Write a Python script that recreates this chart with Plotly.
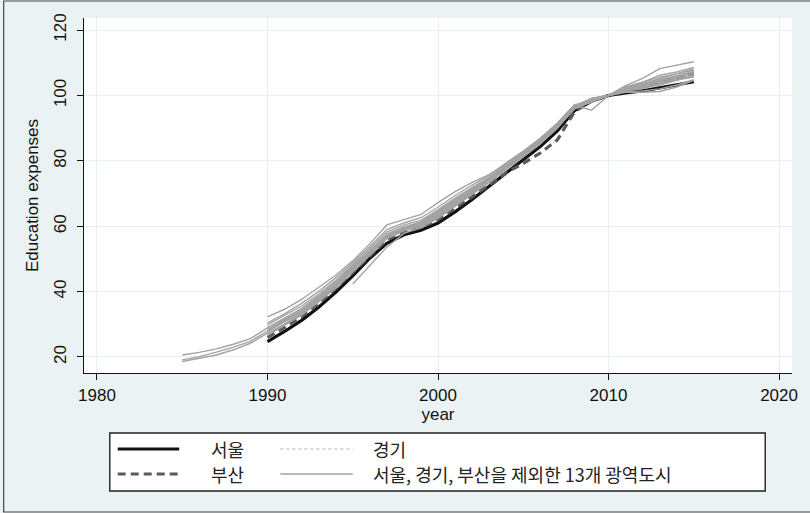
import plotly.graph_objects as go

# ---- data -------------------------------------------------------------
YEARS = list(range(1985, 2016))

SEOUL = [None] * 5 + [24.7, 27.8, 31.2, 35.2, 39.8, 44.8, 50.2, 54.8, 57.4, 58.8,
                      61.0, 64.4, 68.2, 72.2, 76.2, 80.2, 84.4, 89.2, 95.4, 98.2,
                      100.0, 100.8, 101.4, 102.3, 103.3, 104.2]
BUSAN = [None] * 5 + [26.0, 29.0, 32.4, 36.4, 41.0, 46.0, 51.0, 55.8, 58.2, 59.6,
                      62.0, 65.4, 69.0, 72.6, 76.4, 79.2, 82.4, 86.4, 95.0, 98.4,
                      100.0, 101.6, 102.6, 104.0, 105.2, 106.6]
GYEONGGI = [None] * 5 + [26.8, 29.8, 33.0, 37.0, 41.4, 46.4, 51.6, 56.4, 58.8, 60.4,
                         63.2, 66.8, 70.4, 74.0, 77.8, 81.6, 85.6, 90.2, 96.2, 98.6,
                         100.0, 101.6, 102.8, 104.2, 105.4, 106.8]

OTHER_METROS = [
    [20.6, 21.4, 22.5, 23.9, 25.6, 28.9, 31.6, 34.8, 38.6, 43.0, 47.8, 52.6, 57.0, 59.0, 60.4,
     63.4, 67.0, 70.6, 74.4, 78.6, 82.2, 86.2, 90.8, 96.6, 98.4, 100.0, 101.8, 102.6, 103.8, 104.8, 105.6],
    [19.1, 20.1, 21.5, 23.0, 24.8, 27.8, 31.0, 34.2, 38.0, 42.4, 47.2, 52.0, 56.6, 58.8, 60.2,
     63.0, 66.6, 70.2, 74.0, 78.2, 81.8, 85.8, 90.2, 96.2, 98.6, 100.0, 102.2, 103.4, 104.8, 106.0, 107.2],
    [18.6, 19.5, 20.6, 22.2, 24.2, 27.3, 30.0, 33.4, 37.6, 42.2, 47.0, 52.2, 57.2, 59.6, 61.0,
     64.2, 68.0, 71.2, 74.8, 78.8, 82.6, 86.6, 91.0, 96.8, 99.0, 100.0, 102.6, 104.2, 105.6, 106.6, 107.8],
    [None] * 5 + [32.3, 34.6, 37.6, 41.2, 45.0, 49.4, 54.6, 60.4, 62.0, 63.6,
                  67.2, 70.6, 73.4, 75.8, 79.2, 82.6, 86.2, 91.0, 96.8, 99.0,
                  100.0, 103.0, 105.2, 108.2, 109.2, 110.3],
    [None] * 5 + [30.4, 33.2, 36.4, 40.0, 44.2, 48.8, 53.8, 59.0, 61.0, 62.6,
                  65.8, 69.4, 72.6, 75.6, 79.4, 83.0, 87.0, 91.6, 97.2, 98.0,
                  100.0, 102.4, 103.6, 105.2, 106.6, 108.2],
    [None] * 5 + [29.8, 32.6, 35.6, 39.2, 43.4, 48.2, 53.2, 58.2, 60.4, 61.8,
                  65.0, 68.6, 71.8, 75.0, 78.8, 82.4, 86.6, 91.2, 96.0, 98.2,
                  100.0, 101.8, 102.8, 104.4, 105.6, 107.0],
    [None] * 5 + [29.0, 31.8, 34.8, 38.6, 42.8, 47.6, 52.4, 57.6, 59.8, 61.2,
                  64.2, 67.8, 71.2, 74.6, 78.2, 82.0, 86.0, 90.8, 96.4, 98.8,
                  100.0, 101.6, 102.2, 103.6, 104.8, 106.0],
    [None] * 5 + [28.4, 31.2, 34.2, 38.0, 42.2, 47.0, 52.0, 56.8, 59.2, 60.8,
                  63.6, 67.0, 70.6, 74.2, 78.0, 81.6, 85.4, 90.2, 95.8, 99.2,
                  100.0, 101.2, 101.4, 102.0, 103.2, 104.8],
    [None] * 5 + [27.8, 30.6, 33.6, 37.4, 41.6, 46.4, 51.6, 56.4, 58.8, 60.2,
                  63.0, 66.6, 70.2, 73.8, 77.6, 81.4, 85.6, 90.4, 96.6, 98.4,
                  100.0, 102.0, 103.2, 104.0, 105.2, 106.4],
    [None] * 5 + [27.2, 30.0, 33.2, 37.2, 41.6, 46.6, 51.8, 56.8, 59.4, 61.4,
                  64.6, 68.2, 71.6, 75.0, 78.6, 82.2, 86.4, 91.4, 97.0, 95.5,
                  100.0, 101.0, 101.0, 101.2, 102.6, 104.6],
    [None] * 5 + [26.6, 29.6, 32.8, 36.8, 41.0, 46.0, 51.2, 56.2, 58.6, 60.0,
                  62.6, 66.2, 69.8, 73.4, 77.4, 81.2, 85.2, 90.0, 96.0, 98.8,
                  100.0, 102.4, 104.0, 106.2, 107.2, 108.6],
    [None] * 5 + [28.0, 31.0, 34.0, 37.8, 42.0, 46.8, 52.0, 57.0, 59.6, 61.0,
                  64.0, 67.6, 71.0, 74.4, 78.2, 82.0, 86.2, 90.6, 96.2, 98.6,
                  100.0, 101.8, 103.0, 104.8, 106.0, 107.4],
    [None] * 10 + [42.3, 48.0, 53.6, 57.8, 59.6,
                   62.4, 66.0, 69.8, 73.6, 77.8, 81.6, 85.6, 90.4, 96.0, 98.0,
                   100.0, 101.4, 102.4, 103.2, 104.6, 106.0],
]

X_TICKS = [1980, 1990, 2000, 2010, 2020]
Y_TICKS = [20, 40, 60, 80, 100, 120]

NAME_SEOUL = "서울"
NAME_GYEONGGI = "경기"
NAME_BUSAN = "부산"
NAME_OTHERS = "서울, 경기, 부산을 제외한 13개 광역도시"

# ---- styles -----------------------------------------------------------
LATIN = "Liberation Sans, Arial, sans-serif"
HANGUL = "Noto Sans CJK KR, sans-serif"
OUTER_BG = "#EAF2F3"
GRID = "#E6EFF1"

STYLE_SEOUL = dict(color="#111111", width=3.2)
STYLE_BUSAN = dict(color="#5A5A5A", width=3.2, dash="8px,5px")
STYLE_GYEONGGI = dict(color="#B4B4B4", width=1.2, dash="dot")
STYLE_OTHER = dict(color="#A3A3A3", width=1.4)

fig = go.Figure()

fig.add_trace(go.Scatter(x=YEARS, y=SEOUL, mode="lines", line=STYLE_SEOUL,
                         name=NAME_SEOUL, showlegend=False))
fig.add_trace(go.Scatter(x=YEARS, y=GYEONGGI, mode="lines", line=STYLE_GYEONGGI,
                         name=NAME_GYEONGGI, showlegend=False))
fig.add_trace(go.Scatter(x=YEARS, y=BUSAN, mode="lines", line=STYLE_BUSAN,
                         name=NAME_BUSAN, showlegend=False))
for series in OTHER_METROS:
    fig.add_trace(go.Scatter(x=YEARS, y=series, mode="lines", line=STYLE_OTHER,
                             name=NAME_OTHERS, showlegend=False))

# ---- plot-area geometry (pixels) --------------------------------------
W, H = 810, 513
L, R, T, B = 84, 12, 18, 140
PW, PH = W - L - R, H - T - B


def px(x):
    return (x - L) / PW


def py(y):
    return (H - B - y) / PH


shapes = []
annotations = []

# outer frame
shapes.append(dict(type="rect", xref="paper", yref="paper",
                   x0=px(3), x1=px(830), y0=py(512), y1=py(1),
                   line=dict(color="#444444", width=1.2), layer="below"))

# legend box
shapes.append(dict(type="rect", xref="paper", yref="paper",
                   x0=px(110), x1=px(771), y0=py(491), y1=py(433),
                   fillcolor="white", line=dict(color="#222222", width=1.4)))

legend_rows = [
    (449, [(118, 180, STYLE_SEOUL, NAME_SEOUL, 210),
           (282, 355, STYLE_GYEONGGI, NAME_GYEONGGI, 373)]),
    (474, [(118, 180, STYLE_BUSAN, NAME_BUSAN, 210),
           (282, 355, STYLE_OTHER, NAME_OTHERS, 373)]),
]
for ypos, items in legend_rows:
    for x0, x1, style, label, tx in items:
        shapes.append(dict(type="line", xref="paper", yref="paper",
                           x0=px(x0), x1=px(x1), y0=py(ypos), y1=py(ypos),
                           line=style))
        annotations.append(dict(text=label, xref="paper", yref="paper",
                                x=px(tx), y=py(ypos), xanchor="left", yanchor="middle",
                                showarrow=False,
                                font=dict(family=HANGUL, size=18, color="#222222")))

fig.update_layout(
    width=W, height=H,
    margin=dict(l=L, r=R, t=T, b=B, pad=0),
    paper_bgcolor=OUTER_BG,
    plot_bgcolor="white",
    showlegend=False,
    shapes=shapes,
    annotations=annotations,
    font=dict(family=LATIN, size=17, color="#111111"),
)

fig.update_xaxes(
    range=[1979.24, 2020.76], tickvals=X_TICKS,
    showgrid=True, gridcolor=GRID, gridwidth=1,
    showline=True, linecolor="#111111", linewidth=1.3,
    ticks="outside", ticklen=6, tickcolor="#111111",
    tickfont=dict(family=LATIN, size=17),
    zeroline=False,
    title=dict(text="year", font=dict(family=LATIN, size=17), standoff=0),
)
fig.update_yaxes(
    range=[15.1, 123.7], tickvals=Y_TICKS, tickangle=-90,
    showgrid=True, gridcolor=GRID, gridwidth=1,
    showline=True, linecolor="#111111", linewidth=1.3,
    ticks="outside", ticklen=6, tickcolor="#111111",
    tickfont=dict(family=LATIN, size=17),
    ticklabelstandoff=4,
    zeroline=False,
    title=dict(text="Education expenses", font=dict(family=LATIN, size=17), standoff=8),
)

fig.write_html("out.html")
